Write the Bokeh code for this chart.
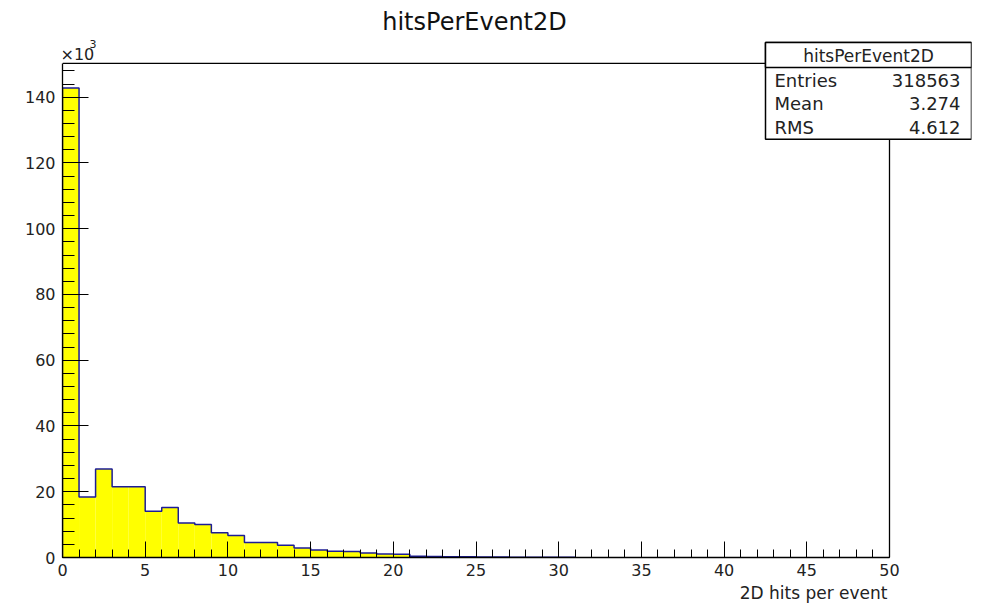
import numpy as np
from bokeh.plotting import figure
from bokeh.models import FixedTicker, Label, BoxAnnotation, Title
from bokeh.embed import file_html
from bokeh.resources import INLINE

# ---- data (counts in thousands, 1 bin per unit, 0..50) ----
bin_edges_low = list(range(0, 50))
counts_k = [142.8, 18.4, 26.9, 21.5, 21.5, 14.1, 15.2, 10.5, 10.0, 7.5,
            6.7, 4.6, 4.6, 3.7, 2.9, 2.3, 1.9, 1.8, 1.4, 1.1,
            1.0, 0.4, 0.3, 0.25, 0.2, 0.15, 0.12, 0.1, 0.08, 0.06,
            0.05, 0, 0, 0, 0, 0, 0, 0, 0, 0,
            0, 0, 0, 0, 0, 0, 0, 0, 0, 0]
x_ticks = [0, 5, 10, 15, 20, 25, 30, 35, 40, 45, 50]
y_ticks = [0, 20, 40, 60, 80, 100, 120, 140]
title_text = "hitsPerEvent2D"
x_label = "2D hits per event"
stat_names = ["Entries", "Mean", "RMS"]
stat_values = ["318563", "3.274", "4.612"]

FONT = "DejaVu Sans"
TXT = "#222222"

# pixel geometry of the histogram frame (ROOT pad)
FL, FR, FT, FB = 62, 889, 63, 558          # frame left/right/top/bottom (px)
XMAX, YMAX = 50.0, 150.3                   # axis maxima
CANVAS_R = 971                             # bokeh frame extends to include stats box
PX_X = (FR - FL) / XMAX
PX_Y = (FB - FT) / YMAX

def xd(px):
    return (px - FL) / PX_X

def yd(py):
    return (FB - py) / PX_Y

p = figure(width=981, height=604,
           x_range=(0, xd(CANVAS_R)), y_range=(0, yd(0)),
           output_backend="svg", toolbar_location=None,
           min_border_left=FL, min_border_right=981 - CANVAS_R,
           min_border_top=0, min_border_bottom=604 - FB)
p.background_fill_color = "white"
p.border_fill_color = "white"
p.outline_line_color = None
p.xgrid.visible = False
p.ygrid.visible = False

left = np.array(bin_edges_low, dtype=float)
vals = np.array(counts_k, dtype=float)
p.quad(left=left, right=left + 1, bottom=0, top=vals,
       fill_color="#ffff00", line_color=None)

# histogram outline (up to last non-empty bin)
last = int(np.nonzero(vals)[0].max()) + 1
xs, ys = [0.0], [0.0]
for i in range(last):
    xs += [left[i], left[i] + 1]
    ys += [vals[i], vals[i]]
xs.append(left[last - 1] + 1)
ys.append(0.0)
p.line(xs, ys, line_color="#1c1c96", line_width=1.5)

# top and right frame lines
p.line([0, XMAX, XMAX], [YMAX, YMAX, 0], line_color="black", line_width=1.3)

# axes
xa = p.xaxis[0]
xa.bounds = (0, XMAX)
xa.ticker = FixedTicker(ticks=x_ticks, minor_ticks=list(range(0, 51)))
xa.major_tick_in = 16
xa.major_tick_out = 0
xa.minor_tick_in = 8
xa.minor_tick_out = 0
xa.major_label_standoff = 6
xa.major_label_text_font = FONT
xa.major_label_text_font_size = "16px"
xa.major_label_text_color = TXT
xa.axis_line_color = "black"
xa.axis_line_width = 1.3

ya = p.yaxis[0]
ya.bounds = (0, YMAX)
ya.ticker = FixedTicker(ticks=y_ticks, minor_ticks=list(range(0, 150, 4)))
ya.major_tick_in = 26
ya.major_tick_out = 0
ya.minor_tick_in = 12
ya.minor_tick_out = 0
ya.major_label_standoff = 7
ya.major_label_text_font = FONT
ya.major_label_text_font_size = "16px"
ya.major_label_text_color = TXT
ya.axis_line_color = "black"
ya.axis_line_width = 1.3

# x-axis title, right aligned at the end of the axis
p.add_layout(Title(text=x_label, align="right", offset=CANVAS_R - FR + 2,
                   text_font=FONT, text_font_size="17px", text_color=TXT,
                   text_font_style="normal", standoff=4), "below")

# main title
p.add_layout(Label(x=xd(474), y=yd(22), text=title_text,
                   text_align="center", text_baseline="middle",
                   text_font=FONT, text_font_size="24px", text_color="#111111"))
# x10^3 multiplier
p.add_layout(Label(x=xd(60), y=yd(54), text="×10",
                   text_align="left", text_baseline="middle",
                   text_font=FONT, text_font_size="16px", text_color=TXT))
p.add_layout(Label(x=xd(89), y=yd(44), text="3",
                   text_align="left", text_baseline="middle",
                   text_font=FONT, text_font_size="11px", text_color=TXT))

# stats box
p.add_layout(BoxAnnotation(left=xd(765), right=xd(971), top=yd(42), bottom=yd(139),
                           fill_color="white", fill_alpha=1.0,
                           line_color="black", line_alpha=1.0, line_width=1.5))
p.add_layout(BoxAnnotation(left=xd(765), right=xd(971), top=yd(42), bottom=yd(67),
                           fill_color="white", fill_alpha=1.0,
                           line_color="black", line_alpha=1.0, line_width=1.5))
p.add_layout(Label(x=xd(868), y=yd(56), text=title_text, text_align="center",
                   text_baseline="middle", text_font=FONT, text_font_size="17px",
                   text_color=TXT))
rows_y = [80, 103, 127]
for name, val, ry in zip(stat_names, stat_values, rows_y):
    p.add_layout(Label(x=xd(774), y=yd(ry), text=name, text_align="left",
                       text_baseline="middle", text_font=FONT,
                       text_font_size="18px", text_color=TXT))
    p.add_layout(Label(x=xd(960), y=yd(ry), text=val, text_align="right",
                       text_baseline="middle", text_font=FONT,
                       text_font_size="18px", text_color=TXT))

open("out.html", "w").write(file_html(p, INLINE))
